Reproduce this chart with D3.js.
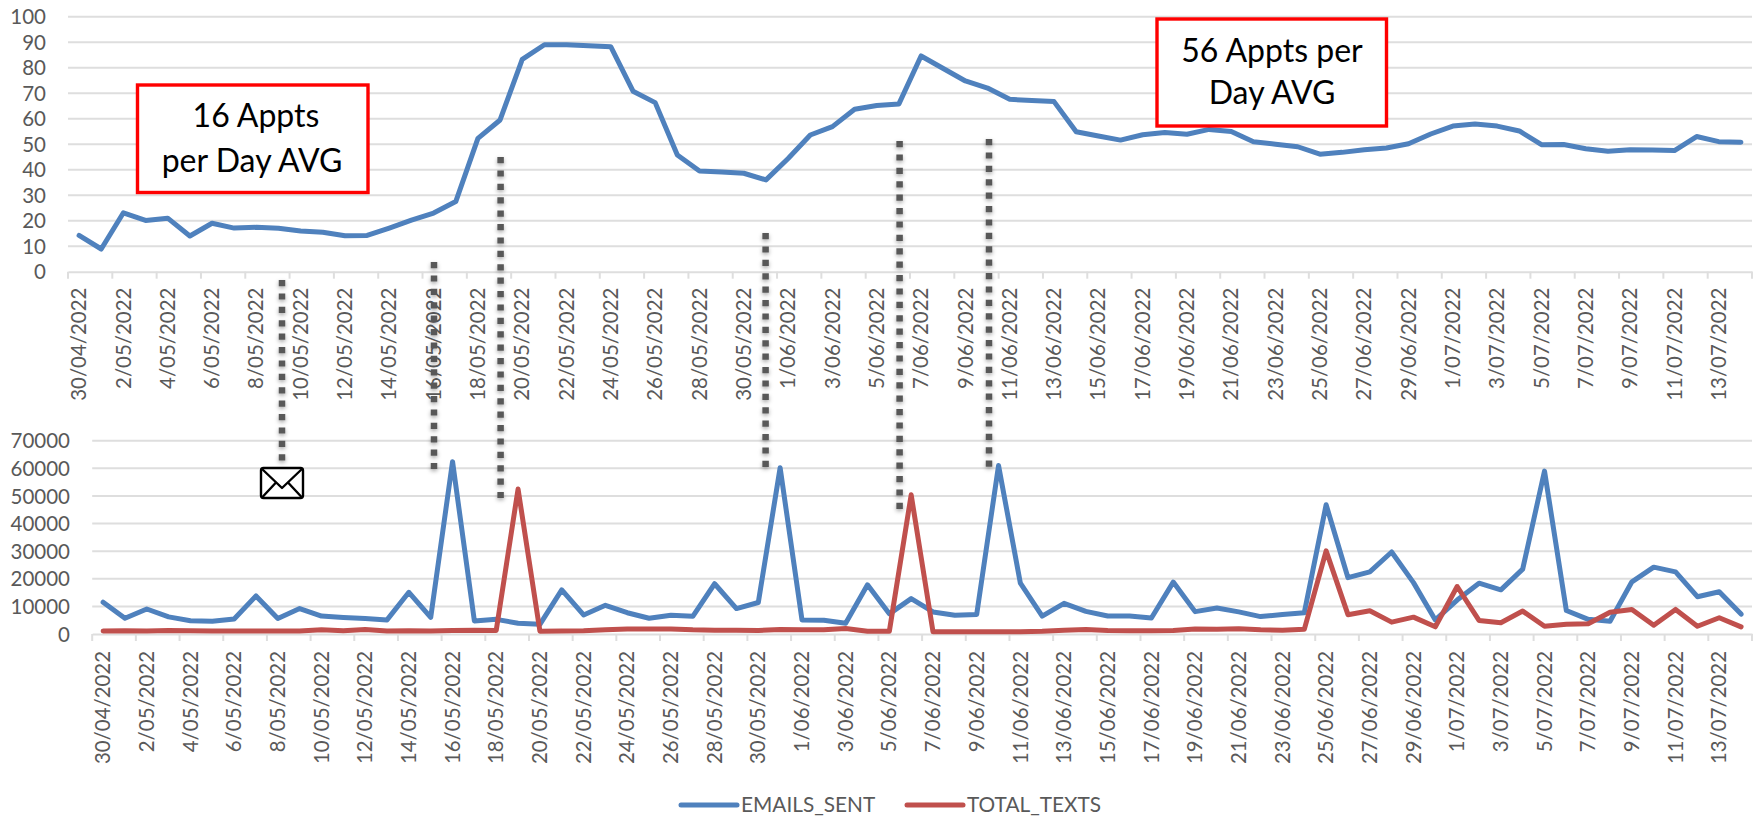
<!DOCTYPE html>
<html>
<head>
<meta charset="utf-8">
<script src="https://cdn.jsdelivr.net/npm/d3@7"></script>
<style>
html,body{margin:0;padding:0;background:#fff;overflow:hidden}
svg{display:block}
text{font-family:Lato,"Open Sans",sans-serif}
</style>
</head>
<body>
<div id="chart"></div>
<script>
const dates = ["30/04/2022","1/05/2022","2/05/2022","3/05/2022","4/05/2022","5/05/2022","6/05/2022","7/05/2022","8/05/2022","9/05/2022","10/05/2022","11/05/2022","12/05/2022","13/05/2022","14/05/2022","15/05/2022","16/05/2022","17/05/2022","18/05/2022","19/05/2022","20/05/2022","21/05/2022","22/05/2022","23/05/2022","24/05/2022","25/05/2022","26/05/2022","27/05/2022","28/05/2022","29/05/2022","30/05/2022","31/05/2022","1/06/2022","2/06/2022","3/06/2022","4/06/2022","5/06/2022","6/06/2022","7/06/2022","8/06/2022","9/06/2022","10/06/2022","11/06/2022","12/06/2022","13/06/2022","14/06/2022","15/06/2022","16/06/2022","17/06/2022","18/06/2022","19/06/2022","20/06/2022","21/06/2022","22/06/2022","23/06/2022","24/06/2022","25/06/2022","26/06/2022","27/06/2022","28/06/2022","29/06/2022","30/06/2022","1/07/2022","2/07/2022","3/07/2022","4/07/2022","5/07/2022","6/07/2022","7/07/2022","8/07/2022","9/07/2022","10/07/2022","11/07/2022","12/07/2022","13/07/2022","14/07/2022"];
const appointments = [14.2,8.9,23.1,20.1,21,14,19,17.1,17.4,17,16,15.5,14.1,14.2,17.1,20.2,23,27.5,52.3,59.5,83.3,89,89,88.6,88.2,70.8,66.3,45.8,39.5,39.1,38.6,36,44.4,53.6,56.9,63.7,65.2,65.8,84.6,79.7,74.8,72,67.6,67.1,66.7,54.9,53.2,51.6,53.7,54.6,53.9,55.8,55,51,50,49,46.1,46.8,47.8,48.5,50.2,54,57.1,57.9,57.1,55.2,49.8,49.9,48.2,47.2,47.8,47.7,47.5,53,51,50.8];
const emailsSent = [11500,5700,9050,6200,4800,4600,5400,13800,5600,9200,6500,6000,5600,5100,15100,6000,62400,4700,5300,3900,3500,16000,6900,10400,7700,5700,6800,6400,18200,9200,11400,60200,5100,5000,3900,17800,7300,12800,8000,6800,7100,61000,18400,6500,11100,8200,6500,6500,5800,18800,8100,9400,8000,6300,7100,7700,46800,20400,22500,29700,18600,5100,12300,18400,16000,23500,59000,8500,5300,4600,18900,24200,22500,13500,15300,7200];
const totalTexts = [1100,1200,1100,1300,1200,1100,1100,1100,1100,1100,1500,1200,1600,1100,1200,1100,1300,1400,1300,52500,1000,1100,1200,1500,1800,1800,1800,1500,1400,1400,1300,1600,1500,1500,2000,1000,1000,50400,800,800,800,800,800,1000,1400,1600,1300,1200,1200,1300,1800,1700,1900,1500,1400,1700,30100,7000,8400,4300,6100,2600,17200,4900,4100,8300,2800,3500,3700,7900,8900,3200,8900,2800,5900,2600];
const topTicks = [0,10,20,30,40,50,60,70,80,90,100];
const bottomTicks = [0,10000,20000,30000,40000,50000,60000,70000];
const legendNames = ["EMAILS_SENT","TOTAL_TEXTS"];
const calloutLeft = ["16 Appts","per Day AVG"];
const calloutRight = ["56 Appts per","Day AVG"];

const W = 1760, H = 818, BLUE = "#4F81BD", RED = "#C0504D", GREY = "#595959", GRID = "#DEDEDE";
const svg = d3.select("#chart").append("svg").attr("width", W).attr("height", H);
const defs = svg.append("defs");
const shadow = defs.append("filter").attr("id","soft").attr("filterUnits","userSpaceOnUse")
  .attr("x",0).attr("y",0).attr("width",W).attr("height",H);
shadow.append("feDropShadow").attr("dx",0).attr("dy",2).attr("stdDeviation",2.2).attr("flood-color","#000").attr("flood-opacity",.35);

function panel(cfg){
  const x = d3.scaleBand().domain(dates).range([cfg.left, cfg.right]).paddingInner(0).paddingOuter(0);
  const y = d3.scaleLinear().domain(cfg.domain).range([cfg.bottom, cfg.top]);
  const g = svg.append("g");
  // gridlines
  g.append("g").selectAll("line").data(cfg.ticks.slice(1)).join("line")
    .attr("x1",cfg.left).attr("x2",cfg.right).attr("y1",d=>y(d)).attr("y2",d=>y(d))
    .attr("stroke",GRID).attr("stroke-width",2);
  // y axis
  const ya = d3.axisLeft(y).tickValues(cfg.ticks).tickSize(0).tickFormat(d3.format("d"));
  const yg = g.append("g").attr("transform",`translate(${cfg.labelX},0)`).call(ya);
  yg.select(".domain").remove();
  yg.selectAll("text").attr("x",0).attr("dy",".35em").attr("font-size",20.5).attr("fill",GREY);
  // x axis
  const labelled = dates.filter((d,i)=>i%2===0);
  const xa = d3.axisBottom(x).tickValues(labelled).tickSize(0).tickPadding(0);
  const xg = g.append("g").attr("transform",`translate(0,${cfg.bottom})`).call(xa);
  xg.select(".domain").attr("stroke",GRID).attr("stroke-width",2);
  xg.selectAll("text").attr("transform","rotate(-90)").attr("text-anchor","end")
    .attr("x",-cfg.labelGap).attr("y",0).attr("dy",".35em").attr("font-size",20.4).attr("fill",GREY);
  // tick marks at category boundaries
  g.append("g").selectAll("line").data(labelled.concat(["__end"])).join("line")
    .attr("x1",d=>d==="__end"?cfg.right:x(d)).attr("x2",d=>d==="__end"?cfg.right:x(d))
    .attr("y1",cfg.bottom).attr("y2",cfg.bottom+7)
    .attr("stroke",GRID).attr("stroke-width",2);
  const line = d3.line().x((d,i)=>x(dates[i])+x.bandwidth()/2).y(d=>y(d)).curve(d3.curveLinear);
  cfg.series.forEach(s=>{
    g.append("path").datum(s.values).attr("d",line).attr("fill","none")
      .attr("stroke",s.color).attr("stroke-width",5).attr("stroke-linejoin","round").attr("stroke-linecap","round");
  });
}

panel({left:68,right:1752,top:16.7,bottom:271.7,domain:[0,100],ticks:topTicks,labelX:46,labelGap:16,
  series:[{values:appointments,color:BLUE}]});
panel({left:92.2,right:1752,top:440.7,bottom:634,domain:[0,70000],ticks:bottomTicks,labelX:70,labelGap:17,
  series:[{values:emailsSent,color:BLUE},{values:totalTexts,color:RED}]});

// legend
const lg = svg.append("g");
[{x1:681,x2:737,tx:741,c:BLUE},{x1:907,x2:963,tx:967,c:RED}].forEach((l,i)=>{
  lg.append("line").attr("x1",l.x1).attr("x2",l.x2).attr("y1",805).attr("y2",805)
    .attr("stroke",l.c).attr("stroke-width",5).attr("stroke-linecap","round");
  lg.append("text").attr("x",l.tx).attr("y",805).attr("dy",".35em").attr("font-size",20.8).attr("fill",GREY).text(legendNames[i]);
});

// dotted annotation lines
const ann = svg.append("g");
[[282,280,468],[434,262,469],[500.6,157,498],[765.6,233,467],[899.6,141,510],[989,139,468]].forEach(a=>{
  ann.append("line").attr("x1",a[0]).attr("x2",a[0]).attr("y1",a[1]).attr("y2",a[2])
    .attr("stroke",GREY).attr("stroke-width",6.5).attr("stroke-dasharray","6.2 7.2").attr("filter","url(#soft)");
});

// envelope
const env = svg.append("g").attr("fill","none").attr("stroke","#000").attr("stroke-width",2.4).attr("stroke-linejoin","round");
env.append("rect").attr("x",261).attr("y",468).attr("width",42).attr("height",30).attr("rx",2.5).attr("fill","#fff");
env.append("path").attr("d","M261.5,468.5 L282,488 L302.5,468.5");
env.append("path").attr("d","M262,497.5 L276,482.5 M302,497.5 L288,482.5");

// red callouts
function callout(x,y,w,h,lines,cx,b1,b2){
  const g = svg.append("g");
  g.append("rect").attr("x",x).attr("y",y).attr("width",w).attr("height",h).attr("fill","#fff").attr("stroke","#FF0000").attr("stroke-width",3.4);
  lines.forEach((t,i)=>{
    g.append("text").attr("x",cx[i]).attr("y",i?b2:b1).attr("text-anchor","middle").attr("font-size",32).attr("fill","#000").text(t);
  });
}
callout(137.5,85,230.5,107.5,calloutLeft,[256,252],127,172);
callout(1157,19,229.5,107,calloutRight,[1272,1272],62,104);
</script>
</body>
</html>
